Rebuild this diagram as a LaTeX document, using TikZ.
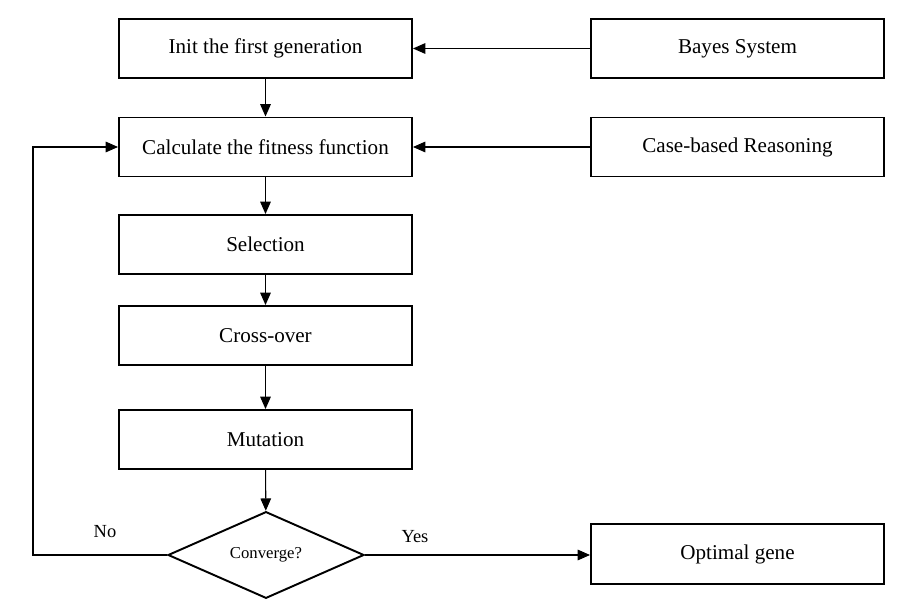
\documentclass[tikz,border=0pt]{standalone}
\usepackage{fontspec}
\setmainfont{Liberation Serif}
\usetikzlibrary{positioning, calc, shapes.geometric, arrows.meta}

\begin{document}
\begin{tikzpicture}[
            step box/.style={rectangle, draw=black, line width=1.1pt, minimum width=5.86cm, minimum height=1.18cm, align=center, font=\fontsize{12}{14}\selectfont},
            decision/.style={diamond, draw=black, line width=1.1pt, minimum width=3.92cm, minimum height=1.64cm, inner sep=0pt, font=\fontsize{9.5}{11}\selectfont},
            link/.style={-{Triangle[length=7pt, width=6pt]}, line width=0.6pt, black},
            tag/.style={font=\fontsize{10.5}{12}\selectfont}
        ]
            \useasboundingbox (0,0) rectangle (18,12.06);

            \node[step box] (init) at (5.31,11.09) {Init the first generation};
            \node[step box] (fit) at (5.31,9.12) {Calculate the fitness function};
            \node[step box] (sel) at (5.31,7.17) {Selection};
            \node[step box] (cross) at (5.31,5.35) {Cross-over};
            \node[step box] (mut) at (5.31,3.27) {Mutation};
            \node[decision] (conv) at (5.32,0.96) {Converge?};

            \node[step box] (bayes) at (14.75,11.09) {Bayes System};
            \node[step box] (cbr) at (14.75,9.12) {Case-based Reasoning};
            \node[step box, minimum height=1.2cm] (opt) at (14.75,0.98) {Optimal gene};

            \draw[link] (init) -- (fit);
            \draw[link] (fit) -- (sel);
            \draw[link] (sel) -- (cross);
            \draw[link] (cross) -- (mut);
            \draw[link] (mut) -- (conv);

            \draw[link] (bayes) -- (init);
            \draw[link] (cbr) -- (fit);

            % loop back when not converged
            \coordinate (back) at (0.66,0.96);
            \draw[link] (conv.west) -- (back) |- (fit.west);
            \draw[link] (conv.east) -- (conv.east -| opt.west);

            \node[tag] (no) at (2.1,1.42) {No};
            \node[tag] (yes) at (8.3,1.32) {Yes};
        \end{tikzpicture}
\end{document}
